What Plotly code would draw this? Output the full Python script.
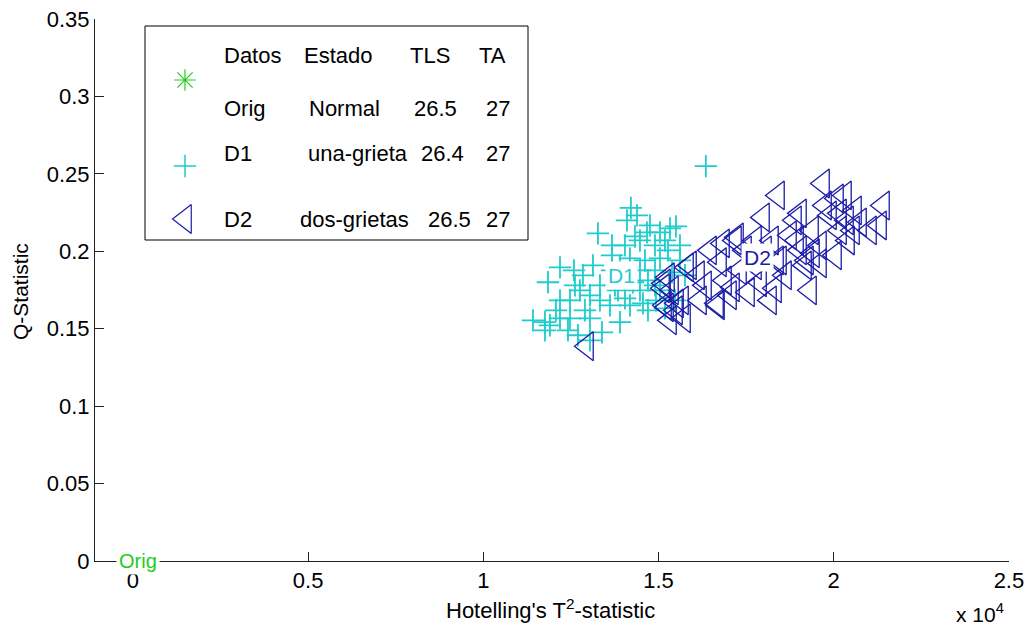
import plotly.graph_objects as go

# ---------------- data ----------------
orig_x = [0.0]
orig_y = [0.0]

d1_x = [16350, 14210, 14100, 13270, 14755, 15326, 15497, 14470, 14898, 15269,
        12187, 12586, 12843, 11844, 13128, 13671, 13842, 13328, 13614, 14042,
        14470, 14926, 15183, 14698, 14270, 14898, 15041, 14612, 14184, 13671,
        12757, 12472, 12900, 12187, 11416, 11901, 12415, 12700, 13043, 13385,
        13899, 14555, 12615, 13899, 14698, 15183, 15611, 15754, 13328, 12187,
        12072, 11758, 13043, 14042, 13671, 15041, 14184, 15469, 13043, 11758,
        14384, 15041, 14670, 14327, 14898, 13756, 12472, 14470, 15383, 15611]
d1_y = [0.255, 0.228, 0.220, 0.2116, 0.2167, 0.2148, 0.2161, 0.207, 0.2038, 0.2006,
        0.1896, 0.1877, 0.1845, 0.180, 0.1909, 0.1877, 0.1748, 0.1683, 0.1651, 0.1696,
        0.1748, 0.1683, 0.1632, 0.1619, 0.180, 0.1877, 0.1954, 0.1941, 0.1954, 0.1974,
        0.1748, 0.1683, 0.1619, 0.1567, 0.1554, 0.1522, 0.149, 0.1458, 0.1567, 0.1477,
        0.1542, 0.1664, 0.178, 0.1909, 0.1812, 0.207, 0.1941, 0.1845, 0.178, 0.1683,
        0.1619, 0.1542, 0.1716, 0.2038, 0.2038, 0.1748, 0.1651, 0.1683, 0.1425, 0.149,
        0.2232, 0.2122, 0.2122, 0.2096, 0.178, 0.178, 0.1567, 0.1877, 0.1864, 0.2038]

d2_x = [12957, 15155, 15383, 15669, 15497, 15183, 15897, 16125, 16325, 16182,
        16468, 16753, 16896, 17038, 16696, 17324, 17466, 17181, 17552, 17752,
        17895, 18037, 18237, 18180, 18465, 18608, 18751, 18893, 19036, 19179,
        19322, 19379, 19607, 19750, 19892, 20035, 20178, 20320, 20406, 20606,
        20749, 19693, 21405, 21034, 21320, 18408, 17980, 16839, 17238, 15269,
        15526, 16667, 18323, 18951, 19407, 20378, 20549, 18380, 15811, 15126,
        15240, 20092, 20178, 19607, 19236, 19036, 17124, 17752, 15726, 15326]
d2_y = [0.1387, 0.1793, 0.1748, 0.1683, 0.1619, 0.1651, 0.1909, 0.1845, 0.178, 0.1683,
        0.2006, 0.1929, 0.1812, 0.1716, 0.1651, 0.1877, 0.2006, 0.207, 0.1735, 0.1909,
        0.180, 0.2006, 0.207, 0.1683, 0.1941, 0.1845, 0.2103, 0.220, 0.2006, 0.1909,
        0.1748, 0.2135, 0.2038, 0.2296, 0.2232, 0.1974, 0.2135, 0.2361, 0.207, 0.2264,
        0.2187, 0.2438, 0.2296, 0.2135, 0.2167, 0.2361, 0.2219, 0.2051, 0.209, 0.1832,
        0.1664, 0.1664, 0.1761, 0.207, 0.1987, 0.220, 0.2135, 0.1941, 0.1896, 0.1761,
        0.1638, 0.2341, 0.2245, 0.1922, 0.1941, 0.2245, 0.1767, 0.207, 0.1567, 0.1554]

cluster_names = ["Orig", "D1", "D2"]
cluster_label_x = [130, 13955, 17837]
cluster_label_y = [0.0, 0.1843, 0.1959]

x_tickvals = [0, 5000, 10000, 15000, 20000, 25000]
x_ticktext = ["0", "0.5", "1", "1.5", "2", "2.5"]
y_tickvals = [0, 0.05, 0.1, 0.15, 0.2, 0.25, 0.3, 0.35]
y_ticktext = ["0", "0.05", "0.1", "0.15", "0.2", "0.25", "0.3", "0.35"]

legend_header = ["Datos", "Estado", "TLS", "TA"]
legend_datos = ["Orig", "D1", "D2"]
legend_estado = ["Normal", "una-grieta", "dos-grietas"]
legend_tls = ["26.5", "26.4", "26.5"]
legend_ta = ["27", "27", "27"]

# ---------------- style ----------------
OFF = 8  # default page body margin
W, H = 1033 - OFF, 628 - OFF
ML, MR, MT, MB = 95 - OFF, 24, 19 - OFF, 67
PW, PH = W - ML - MR, H - MT - MB
FONT = "Liberation Sans, Arial, sans-serif"
C_GREEN = "#22cc22"
C_CYAN = "#1fcccc"
C_BLUE = "#1c1ca8"


def px(xp):
    """page pixel x -> paper fraction"""
    return (xp - OFF - ML) / PW


def py(yp):
    """page pixel y -> paper fraction"""
    return (H - MB - (yp - OFF)) / PH


fig = go.Figure()

fig.add_trace(go.Scatter(x=orig_x, y=orig_y, mode="markers", cliponaxis=False,
                         marker=dict(symbol="asterisk-open", size=18, color=C_GREEN,
                                     line=dict(color=C_GREEN, width=1.2)),
                         showlegend=False))
fig.add_trace(go.Scatter(x=d1_x, y=d1_y, mode="markers",
                         marker=dict(symbol="cross-thin-open", size=16,
                                     color=C_CYAN,
                                     line=dict(color=C_CYAN, width=1.8)),
                         showlegend=False))
fig.add_trace(go.Scatter(x=d2_x, y=d2_y, mode="markers",
                         marker=dict(symbol="triangle-left-open", size=25,
                                     color=C_BLUE,
                                     line=dict(color=C_BLUE, width=1.3)),
                         showlegend=False))

# legend markers on an overlay axis (plot-fraction coordinates)
fig.add_trace(go.Scatter(x=[px(185)], y=[py(80)], xaxis="x2", yaxis="y2",
                         mode="markers", showlegend=False,
                         marker=dict(symbol="asterisk-open", size=18, color=C_GREEN,
                                     line=dict(color=C_GREEN, width=1.2))))
fig.add_trace(go.Scatter(x=[px(185)], y=[py(166)], xaxis="x2", yaxis="y2",
                         mode="markers", showlegend=False,
                         marker=dict(symbol="cross-thin-open", size=16, color=C_CYAN,
                                     line=dict(color=C_CYAN, width=1.5))))
fig.add_trace(go.Scatter(x=[px(185)], y=[py(219)], xaxis="x2", yaxis="y2",
                         mode="markers", showlegend=False,
                         marker=dict(symbol="triangle-left-open", size=25, color=C_BLUE,
                                     line=dict(color=C_BLUE, width=1.2))))

annotations = []
# cluster labels
label_colors = [C_GREEN, C_CYAN, C_BLUE]
label_sizes = [20, 21, 21]
for name, lx, ly, col, fs in zip(cluster_names, cluster_label_x, cluster_label_y,
                                 label_colors, label_sizes):
    annotations.append(dict(x=lx, y=ly, xref="x", yref="y", text=name,
                            showarrow=False, bgcolor="white", borderpad=2,
                            font=dict(family=FONT, size=fs, color=col)))

# legend text
col_x_header = [223, 303, 409, 478]
for t, xp in zip(legend_header, col_x_header):
    annotations.append(dict(x=px(xp), y=py(56), xref="paper", yref="paper",
                            text=t, showarrow=False, xanchor="left", yanchor="middle",
                            borderpad=0, font=dict(family=FONT, size=22, color="black")))
row_y = [109, 153, 220]
estado_x = [308, 307, 299]
tls_x = [413, 420, 427]
for i in range(3):
    for t, xp in [(legend_datos[i], 223), (legend_estado[i], estado_x[i]),
                  (legend_tls[i], tls_x[i]), (legend_ta[i], 485)]:
        annotations.append(dict(x=px(xp), y=py(row_y[i]), xref="paper", yref="paper",
                                text=t, showarrow=False, xanchor="left", yanchor="middle",
                                borderpad=0, font=dict(family=FONT, size=22, color="black")))

# axis titles and exponent
annotations.append(dict(x=px(550), y=py(609), xref="paper", yref="paper",
                        text="Hotelling's T<sup>2</sup>-statistic", showarrow=False,
                        xanchor="center", yanchor="middle",
                        font=dict(family=FONT, size=22, color="black")))
annotations.append(dict(x=px(20), y=py(292), xref="paper", yref="paper",
                        text="Q-Statistic", showarrow=False, textangle=-90,
                        xanchor="center", yanchor="middle",
                        font=dict(family=FONT, size=21, color="black")))
annotations.append(dict(x=px(980), y=py(627), xref="paper", yref="paper",
                        text="x 10<sup>4</sup>", showarrow=False,
                        xanchor="center", yanchor="bottom", borderpad=0,
                        font=dict(family=FONT, size=21, color="black")))

shapes = [dict(type="rect", xref="paper", yref="paper",
               x0=px(145), x1=px(528), y0=py(240), y1=py(26),
               line=dict(color="black", width=1), fillcolor="white", layer="below")]

fig.update_layout(
    width=W, height=H,
    margin=dict(l=ML, r=MR, t=MT, b=MB, pad=0, autoexpand=False),
    paper_bgcolor="white", plot_bgcolor="white",
    font=dict(family=FONT, size=22, color="black"),
    showlegend=False,
    xaxis=dict(range=[-1084, 25002], tickvals=x_tickvals, ticktext=x_ticktext,
               automargin=False, ticklabeloverflow="allow",
               showgrid=False, zeroline=False, showline=True, linecolor="#222",
               linewidth=1, ticks="inside", ticklen=9, tickcolor="#222",
               tickfont=dict(family=FONT, size=22, color="black")),
    yaxis=dict(range=[0, 0.35002], tickvals=y_tickvals, ticktext=y_ticktext,
               automargin=False, ticklabeloverflow="allow",
               showgrid=False, zeroline=False, showline=True, linecolor="#222",
               linewidth=1, ticks="inside", ticklen=9, tickcolor="#222",
               tickfont=dict(family=FONT, size=22, color="black")),
    xaxis2=dict(overlaying="x", range=[0, 1], visible=False),
    yaxis2=dict(overlaying="y", range=[0, 1], visible=False),
    annotations=annotations,
    shapes=shapes,
)

fig.write_html("out.html")
